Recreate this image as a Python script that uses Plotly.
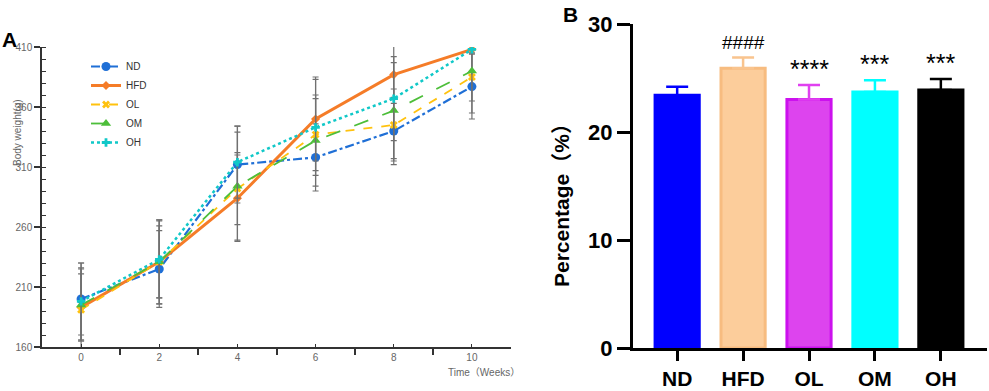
import plotly.graph_objects as go

# ---------- Panel A data ----------
weeks = [0, 2, 4, 6, 8, 10]
nd = [200, 225, 312, 318, 340, 377]
nd_sd = [30, 32, 32, 28, 28, 27]
hfd = [193, 231, 284, 350, 387, 408]
hfd_sd = [28, 35, 36, 35, 24, 3]
ol = [191, 231, 292, 337, 345, 385]
ol_sd = [35, 30, 30, 30, 30, 30]
om = [195, 231, 294, 332, 357, 390]
om_sd = [30, 35, 45, 38, 40, 25]
oh = [198, 233, 314, 343, 367, 408]
oh_sd = [32, 32, 30, 40, 35, 3]

# ---------- Panel B data ----------
groups = ["ND", "HFD", "OL", "OM", "OH"]
pct = [23.4, 25.9, 23.0, 23.7, 23.9]
pct_err = [0.8, 1.0, 1.35, 1.1, 1.0]
signif = ["", "####", "****", "***", "***"]

W, H = 989, 391
def px_x(p):
    return p / W
def px_y(p):
    return 1 - p / H

fig = go.Figure()

series = [
    ("ND", nd, nd_sd, "#1F6FD6", "dashdot", "circle", 9, 2.2),
    ("HFD", hfd, hfd_sd, "#F57C28", "solid", "diamond", 7, 3),
    ("OL", ol, ol_sd, "#FFC20E", "dash", "x", 7, 1.8),
    ("OM", om, om_sd, "#4DBE3A", "longdash", "triangle-up", 9, 1.8),
    ("OH", oh, oh_sd, "#10C8C8", "dot", "cross", 7, 2.5),
]
for name, vals, sd, col, dash, sym, msize, lw in series:
    fig.add_trace(go.Scatter(
        x=weeks, y=vals, name=name, mode="lines+markers",
        line=dict(color=col, dash=dash, width=lw),
        marker=dict(symbol=sym, size=msize, color=col),
        error_y=dict(type="data", array=sd, visible=True,
                     color="#707070", thickness=1.2, width=3),
        xaxis="x", yaxis="y",
    ))

bar_fill = ["#0000FF", "#FCCD9B", "#DD44EE", "#00FFFF", "#000000"]
bar_line = ["#0000FF", "#F7BC80", "#CC11EE", "#00FFFF", "#000000"]
err_col = ["#0000FF", "#F9C48E", "#E040F0", "#00FFFF", "#000000"]
for i, g in enumerate(groups):
    fig.add_trace(go.Bar(
        x=[g], y=[pct[i]], width=0.67,
        marker=dict(color=bar_fill[i], line=dict(color=bar_line[i], width=3)),
        error_y=dict(type="data", array=[pct_err[i]], arrayminus=[0],
                     symmetric=False, visible=True,
                     color=err_col[i], thickness=2.5, width=11),
        showlegend=False, xaxis="x2", yaxis="y2",
    ))

annotations = []
for i, g in enumerate(groups):
    if signif[i]:
        star = signif[i].startswith("*")
        annotations.append(dict(
            x=g, y=pct[i] + pct_err[i] + (0.0 if star else 0.25), xref="x2", yref="y2",
            text=signif[i], showarrow=False, yanchor="bottom",
            font=dict(family="Liberation Sans", size=25 if star else 19, color="black"),
        ))

grey = "#666666"
annotations += [
    dict(x=px_x(0), y=px_y(40), xref="paper", yref="paper", text="<b>A</b>",
         showarrow=False, xanchor="left", yanchor="middle",
         font=dict(family="Liberation Sans", size=21, color="black")),
    dict(x=px_x(561), y=px_y(15), xref="paper", yref="paper", text="<b>B</b>",
         showarrow=False, xanchor="left", yanchor="middle",
         font=dict(family="Liberation Sans", size=21, color="black")),
    dict(x=px_x(10), y=px_y(97), xref="paper", yref="paper", text="Body weight(g)",
         showarrow=False, textangle=-90,
         font=dict(family="Liberation Sans, Noto Sans CJK SC", size=10, color=grey)),
    dict(x=px_x(522), y=px_y(380), xref="paper", yref="paper", text="Time（Weeks）",
         showarrow=False, xanchor="right",
         font=dict(family="Liberation Sans, Noto Sans CJK SC", size=10, color=grey)),
    dict(x=px_x(561), y=px_y(200), xref="paper", yref="paper", text="<b>Percentage（%）</b>",
         showarrow=False, textangle=-90,
         font=dict(family="Liberation Sans, Noto Sans CJK SC", size=21, color="black")),
]

fig.update_layout(
    template="none",
    width=W, height=H, margin=dict(l=0, r=0, t=0, b=0, pad=0, autoexpand=False),
    plot_bgcolor="white", paper_bgcolor="white",
    showlegend=True,
    legend=dict(x=px_x(86), y=px_y(52), xanchor="left", yanchor="top",
                bgcolor="rgba(0,0,0,0)",
                font=dict(family="Liberation Sans", size=10, color="#333333"),
                itemwidth=30, tracegroupgap=0),
    annotations=annotations,
    xaxis=dict(domain=[px_x(42), px_x(511)], range=[-1, 11], automargin=False,
               tickmode="linear", tick0=0, dtick=2,
               ticks="inside", ticklen=3, tickwidth=1.2, tickcolor="#333",
               showline=True, linecolor="#333", linewidth=1.5,
               showgrid=False, zeroline=False,
               tickfont=dict(family="Liberation Sans", size=10, color=grey),
               minor=dict(tick0=1, dtick=2, ticks="outside", ticklen=6,
                          tickwidth=1.5, tickcolor="#333", showgrid=False),
               anchor="y"),
    yaxis=dict(domain=[px_y(347), px_y(47)], range=[160, 410], automargin=False,
               tickmode="linear", tick0=160, dtick=50,
               ticks="outside", ticklen=6, tickwidth=1.5, tickcolor="#333",
               showline=True, linecolor="#333", linewidth=1.5,
               showgrid=False, zeroline=False,
               tickfont=dict(family="Liberation Sans", size=10, color=grey),
               minor=dict(dtick=10, ticks="inside", ticklen=4, tickwidth=1,
                          tickcolor="#333", showgrid=False),
               anchor="x"),
    xaxis2=dict(domain=[px_x(633), px_x(987)], range=[-0.67, 4.7], automargin=False,
                type="category",
                ticks="outside", ticklen=10, tickwidth=3, tickcolor="black",
                showline=True, linecolor="black", linewidth=3,
                showgrid=False, zeroline=False,
                tickfont=dict(family="Liberation Sans", size=21, color="black", weight="bold"),
                anchor="y2"),
    yaxis2=dict(domain=[px_y(348), px_y(24)], range=[0, 30], automargin=False,
                tickmode="linear", tick0=0, dtick=10,
                ticks="outside", ticklen=13, tickwidth=3, tickcolor="black",
                showline=True, linecolor="black", linewidth=3,
                showgrid=False, zeroline=False,
                tickfont=dict(family="Liberation Sans", size=22, color="black", weight="bold"),
                anchor="x2"),
)

fig.write_html("out.html", config={"displayModeBar": False},
               post_script="document.body.style.margin='0px';document.body.style.overflow='hidden';")
